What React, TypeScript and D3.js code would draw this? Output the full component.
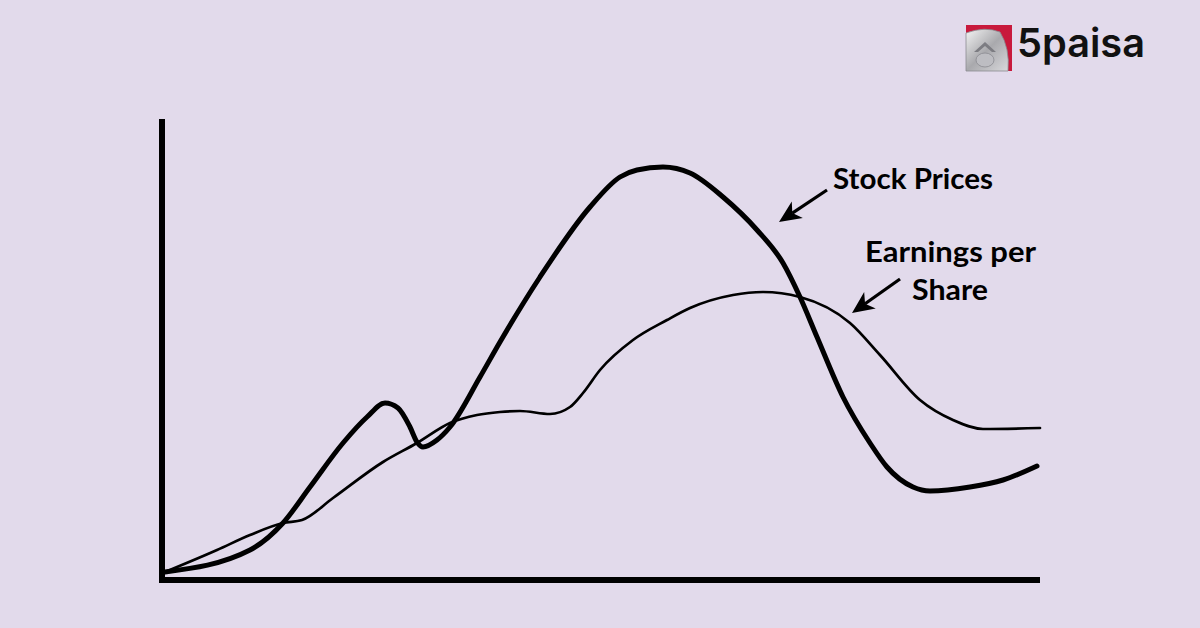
import React from "react";
import * as d3 from "d3";

// Stock price curve (time units, price units)
const stockX = [0, 17, 23.6, 29, 35.6, 40.4, 44, 46.6, 49, 50.4, 51.6, 54.4, 57, 63, 67, 75, 85, 91, 94.4, 99.6, 105, 111.6, 118.4, 123.6, 127, 130.4, 135.6, 141, 144.4, 149.6, 153, 161, 167.6, 174.4];
const stockY = [0, 4.4, 9.8, 17, 25.8, 31, 33.8, 32.8, 29, 26, 25, 26.4, 29, 39, 46, 59, 73, 79, 80.4, 81, 79.8, 75, 68.4, 61.8, 55, 47, 35, 25.8, 21, 17, 16.2, 17, 18.4, 21.2];

// Earnings per share curve
const epsX = [0, 10.4, 17, 23.6, 27.4, 33.6, 43.6, 50.4, 57, 62.4, 67, 71, 77, 81, 83.6, 87, 93.6, 100.4, 105, 113.6, 119.6, 127, 137, 143, 151, 157.6, 163.6, 175];
const epsY = [0, 4.4, 7.4, 9.8, 10.4, 14.8, 22, 25.8, 29.8, 31.4, 32, 32.2, 31.6, 33, 35.8, 40.4, 46.4, 50.4, 52.8, 55.4, 56, 55, 49.8, 43.4, 34.4, 30.4, 28.6, 28.8];

const labels = ["Stock Prices", "Earnings per", "Share"];
const brand = "5paisa";

const W = 1200;
const H = 628;

export default function App() {
  const x = d3.scaleLinear().domain([0, 175]).range([165, 1040]);
  const y = d3.scaleLinear().domain([0, 92]).range([572, 112]);

  const line = d3
    .line<[number, number]>()
    .x((d) => x(d[0]))
    .y((d) => y(d[1]))
    .curve(d3.curveMonotoneX);

  const stockPts = stockX.map((v, i) => [v, stockY[i]] as [number, number]);
  const epsPts = epsX.map((v, i) => [v, epsY[i]] as [number, number]);

  const arrow = (x1: number, y1: number, x2: number, y2: number, key: string) => {
    const ang = Math.atan2(y2 - y1, x2 - x1);
    const len = 22;
    const half = 10;
    const bx = x2 - len * Math.cos(ang);
    const by = y2 - len * Math.sin(ang);
    const px = -Math.sin(ang) * half;
    const py = Math.cos(ang) * half;
    const notch = 16;
    const nx = x2 - notch * Math.cos(ang);
    const ny = y2 - notch * Math.sin(ang);
    return (
      <g key={key}>
        <line x1={x1} y1={y1} x2={nx} y2={ny} stroke="#000" strokeWidth={3.2} />
        <path
          d={`M${x2},${y2} L${bx + px},${by + py} L${nx},${ny} L${bx - px},${by - py} Z`}
          fill="#000"
        />
      </g>
    );
  };

  return (
    <svg
      width={W}
      height={H}
      style={{ position: "absolute", left: 0, top: 0, display: "block" }}
    >
      <defs>
        <linearGradient id="coin" x1="0" y1="0" x2="1" y2="1">
          <stop offset="0" stopColor="#f4f4f4" />
          <stop offset="0.5" stopColor="#a9a9ad" />
          <stop offset="1" stopColor="#d9d9dc" />
        </linearGradient>
      </defs>
      <rect x={0} y={0} width={W} height={H} fill="#E2DAEB" />

      {/* logo */}
      <g>
        <rect x={966} y={25} width={46} height={46} fill="#C8193C" />
        <path
          d="M966,33 Q985,26 1000,32 Q1010,48 1008,71 L966,71 Z"
          fill="url(#coin)"
          stroke="#8a8a90"
          strokeWidth={0.8}
        />
        <path d="M974,52 L985,42 L996,52 L992,52 L985,46 L978,52 Z" fill="#7c7c82" />
        <ellipse cx={985} cy={60} rx={9} ry={7} fill="#bdbdc2" stroke="#8a8a90" strokeWidth={0.8} />
        <text
          x={1017}
          y={57}
          fontFamily="Inter, 'Open Sans', sans-serif"
          fontWeight={600}
          fontSize={40}
          fill="#111"
          textLength={128}
          lengthAdjust="spacingAndGlyphs"
        >
          {brand}
        </text>
      </g>

      {/* curves */}
      <path d={line(epsPts) || ""} fill="none" stroke="#000" strokeWidth={2.7} strokeLinejoin="round" strokeLinecap="round" />
      <path d={line(stockPts) || ""} fill="none" stroke="#000" strokeWidth={5} strokeLinejoin="round" strokeLinecap="round" />

      {/* axes */}
      <line x1={162} y1={119} x2={162} y2={583} stroke="#000" strokeWidth={6} />
      <line x1={159} y1={580} x2={1040} y2={580} stroke="#000" strokeWidth={6} />

      {/* labels */}
      <g fontFamily="Lato, 'Open Sans', sans-serif" fontWeight={700} fontSize={29} fill="#000">
        <text x={833} y={189} textLength={160} lengthAdjust="spacingAndGlyphs">{labels[0]}</text>
        <text x={865} y={262} textLength={171} lengthAdjust="spacingAndGlyphs">{labels[1]}</text>
        <text x={912} y={300} textLength={76} lengthAdjust="spacingAndGlyphs">{labels[2]}</text>
      </g>
      {arrow(827, 190, 779, 222, "a1")}
      {arrow(900, 279, 852, 313, "a2")}
    </svg>
  );
}
